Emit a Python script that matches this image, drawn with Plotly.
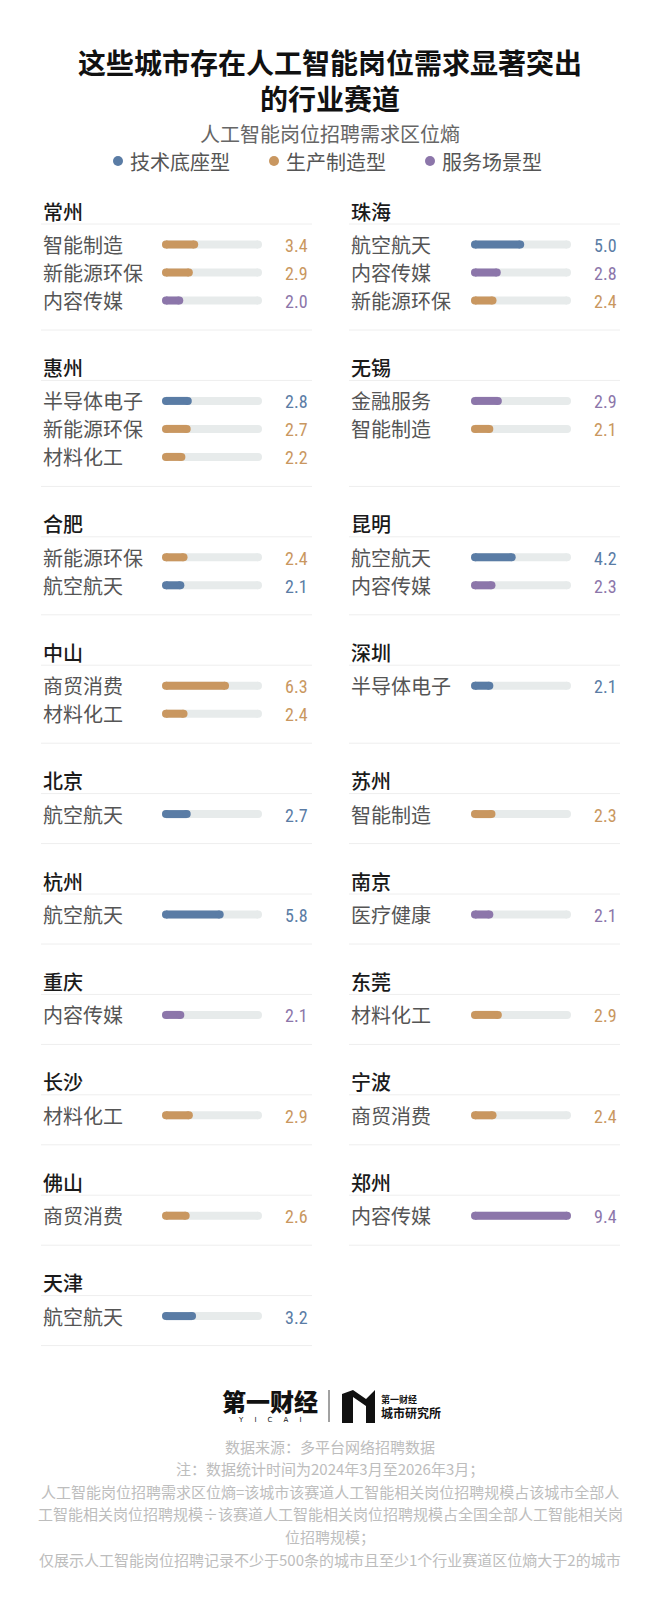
import plotly.graph_objects as go

# ── Data ─────────────────────────────────────────────
TYPES = ["技术底座型", "生产制造型", "服务场景型"]
TYPE_COLORS = {
    "技术底座型": "#5a7ca5",
    "生产制造型": "#c99760",
    "服务场景型": "#8c76aa",
}

SECTOR_TYPE = {
    "航空航天": "技术底座型",
    "半导体电子": "技术底座型",
    "智能制造": "生产制造型",
    "新能源环保": "生产制造型",
    "材料化工": "生产制造型",
    "商贸消费": "生产制造型",
    "内容传媒": "服务场景型",
    "金融服务": "服务场景型",
    "医疗健康": "服务场景型",
}

LEFT_CITIES = ["常州", "惠州", "合肥", "中山", "北京", "杭州", "重庆", "长沙", "佛山", "天津"]
LEFT_SECTORS = [
    ["智能制造", "新能源环保", "内容传媒"],
    ["半导体电子", "新能源环保", "材料化工"],
    ["新能源环保", "航空航天"],
    ["商贸消费", "材料化工"],
    ["航空航天"],
    ["航空航天"],
    ["内容传媒"],
    ["材料化工"],
    ["商贸消费"],
    ["航空航天"],
]
LEFT_VALUES = [
    [3.4, 2.9, 2.0],
    [2.8, 2.7, 2.2],
    [2.4, 2.1],
    [6.3, 2.4],
    [2.7],
    [5.8],
    [2.1],
    [2.9],
    [2.6],
    [3.2],
]

RIGHT_CITIES = ["珠海", "无锡", "昆明", "深圳", "苏州", "南京", "东莞", "宁波", "郑州"]
RIGHT_SECTORS = [
    ["航空航天", "内容传媒", "新能源环保"],
    ["金融服务", "智能制造"],
    ["航空航天", "内容传媒"],
    ["半导体电子"],
    ["智能制造"],
    ["医疗健康"],
    ["材料化工"],
    ["商贸消费"],
    ["内容传媒"],
]
RIGHT_VALUES = [
    [5.0, 2.8, 2.4],
    [2.9, 2.1],
    [4.2, 2.3],
    [2.1],
    [2.3],
    [2.1],
    [2.9],
    [2.4],
    [9.4],
]

SCALE_MAX = 9.4

TITLE = "这些城市存在人工智能岗位需求显著突出<br>的行业赛道"
SUBTITLE = "人工智能岗位招聘需求区位熵"
NOTES = [
    "数据来源：多平台网络招聘数据",
    "注：数据统计时间为2024年3月至2026年3月；",
    "人工智能岗位招聘需求区位熵=该城市该赛道人工智能相关岗位招聘规模占该城市全部人",
    "工智能相关岗位招聘规模÷该赛道人工智能相关岗位招聘规模占全国全部人工智能相关岗",
    "位招聘规模；",
    "仅展示人工智能岗位招聘记录不少于500条的城市且至少1个行业赛道区位熵大于2的城市",
]

# ── Layout constants (pixels) ────────────────────────
W, H = 660, 1609
CJK = "Noto Sans CJK SC, Noto Sans, sans-serif"
NUM = "Liberation Sans Narrow, Roboto Condensed, Roboto, sans-serif"
TRACK = "#e7ebeb"
LINE = "#eeeeee"
BAR_H = 8

COLS = [
    dict(name_x=41, track=(162, 262), value_x=310, line=(41, 312), axis="x2"),
    dict(name_x=349, track=(471, 571), value_x=619, line=(349, 620), axis="x3"),
]

FIRST_TITLE_Y = 211
BLOCK_BASE = 72.4
ROW_STEP = 28
HEADER_GAP = 13
FIRST_ROW_GAP = 33.5
BOTTOM_GAP = 29.5

fig = go.Figure()
annotations = []
shapes = []


def add_text(x, y, text, size, color, anchor="left", weight="normal", family=CJK):
    annotations.append(dict(
        x=x, y=y, xref="x", yref="y", text=text, showarrow=False,
        xanchor=anchor, yanchor="middle",
        font=dict(size=size, color=color, family=family, weight=weight),
    ))


def add_line(x0, x1, y, color=LINE, width=1):
    shapes.append(dict(
        type="line", xref="x", yref="y", x0=x0, x1=x1, y0=y, y1=y,
        line=dict(color=color, width=width),
    ))


# pill segments, collected per column & colour
cap = {}
for col in COLS:
    cap[col["axis"]] = (BAR_H / 2) / (col["track"][1] - col["track"][0]) * SCALE_MAX

pills = {}  # (axis, color) -> (xs, ys)


def add_pill(axis, color, value, y):
    xs, ys = pills.setdefault((axis, color), ([], []))
    c = cap[axis]
    xs += [c, value - c, None]
    ys += [y, y, None]


n_blocks = max(len(LEFT_CITIES), len(RIGHT_CITIES))
sides = [
    (LEFT_CITIES, LEFT_SECTORS, LEFT_VALUES),
    (RIGHT_CITIES, RIGHT_SECTORS, RIGHT_VALUES),
]

title_y = FIRST_TITLE_Y
for b in range(n_blocks):
    n_rows = max(len(s[1][b]) for s in sides if b < len(s[0]))
    for col, (cities, sectors, values) in zip(COLS, sides):
        if b >= len(cities):
            continue
        add_text(col["name_x"], title_y, cities[b], 20, "#1a1a1a", weight=500)
        add_line(col["line"][0], col["line"][1], title_y + HEADER_GAP)
        for k, (sec, val) in enumerate(zip(sectors[b], values[b])):
            y = title_y + FIRST_ROW_GAP + k * ROW_STEP
            color = TYPE_COLORS[SECTOR_TYPE[sec]]
            add_text(col["name_x"], y, sec, 20, "#555555")
            add_pill(col["axis"], TRACK, SCALE_MAX, y)
            add_pill(col["axis"], color, val, y)
            add_text(col["value_x"], y + 1, f"{val:.1f}", 18, color, anchor="right", family=NUM)
        bottom = title_y + FIRST_ROW_GAP + (n_rows - 1) * ROW_STEP + BOTTOM_GAP
        add_line(col["line"][0], col["line"][1], bottom)
    title_y += BLOCK_BASE + ROW_STEP * n_rows

# tracks first, coloured bars on top
order = sorted(pills.items(), key=lambda kv: kv[0][1] != TRACK)
for (axis, color), (xs, ys) in order:
    fig.add_trace(go.Scatter(
        x=xs, y=ys, xaxis=axis, yaxis="y", mode="lines+markers",
        line=dict(color=color, width=BAR_H),
        marker=dict(color=color, size=BAR_H),
        hoverinfo="skip", showlegend=False,
    ))

# ── Title, subtitle, legend ──────────────────────────
add_text(330, 80, TITLE, 28, "#111111", anchor="center", weight="bold")
add_text(330, 133, SUBTITLE, 20, "#666666", anchor="center")

LEGEND_X = [118, 274, 430]
fig.add_trace(go.Scatter(
    x=LEGEND_X, y=[161] * 3, mode="markers",
    marker=dict(size=10, color=[TYPE_COLORS[t] for t in TYPES]),
    hoverinfo="skip", showlegend=False,
))
for x, t in zip(LEGEND_X, TYPES):
    add_text(x + 10, 161, t, 20, "#555555")

# ── Footer: logo + notes ─────────────────────────────
add_text(270, 1400, "第一财经", 24, "#111111", anchor="center", weight=900)
add_text(270, 1420, "Y     I     C     A     I", 7, "#111111", anchor="center", family="DejaVu Sans")
shapes.append(dict(type="line", xref="x", yref="y", x0=329, x1=329, y0=1390, y1=1422,
                   line=dict(color="#444444", width=1)))
shapes.append(dict(
    type="path", xref="x", yref="y",
    path="M342,1394 L353,1390 L366,1399 L375,1390 L375,1423 L366,1423 L366,1406 L353,1397 L353,1423 L342,1423 Z",
    fillcolor="#111111", line=dict(width=0),
))
add_text(379, 1399, "第一财经", 9, "#111111", weight="bold")
add_text(379, 1412, "城市研究所", 12, "#111111", weight="bold")

for i, note in enumerate(NOTES):
    add_text(330, 1446 + i * 22.6, note, 15, "#bdbdbd", anchor="center")

hidden = dict(visible=False, showgrid=False, zeroline=False, fixedrange=True)
fig.update_layout(
    width=W, height=H,
    margin=dict(l=0, r=0, t=0, b=0),
    paper_bgcolor="white", plot_bgcolor="white",
    xaxis=dict(range=[0, W], domain=[0, 1], **hidden),
    xaxis2=dict(range=[0, SCALE_MAX], domain=[COLS[0]["track"][0] / W, COLS[0]["track"][1] / W],
                anchor="y", **hidden),
    xaxis3=dict(range=[0, SCALE_MAX], domain=[COLS[1]["track"][0] / W, COLS[1]["track"][1] / W],
                anchor="y", **hidden),
    yaxis=dict(range=[H, 0], domain=[0, 1], **hidden),
    annotations=annotations,
    shapes=shapes,
    showlegend=False,
)

# drop the browser's default body margin so the 660x1609 figure fills the window
fig.write_html(
    "out.html",
    config=dict(displayModeBar=False),
    post_script="document.body.style.margin='0';document.body.style.overflow='hidden';",
)
